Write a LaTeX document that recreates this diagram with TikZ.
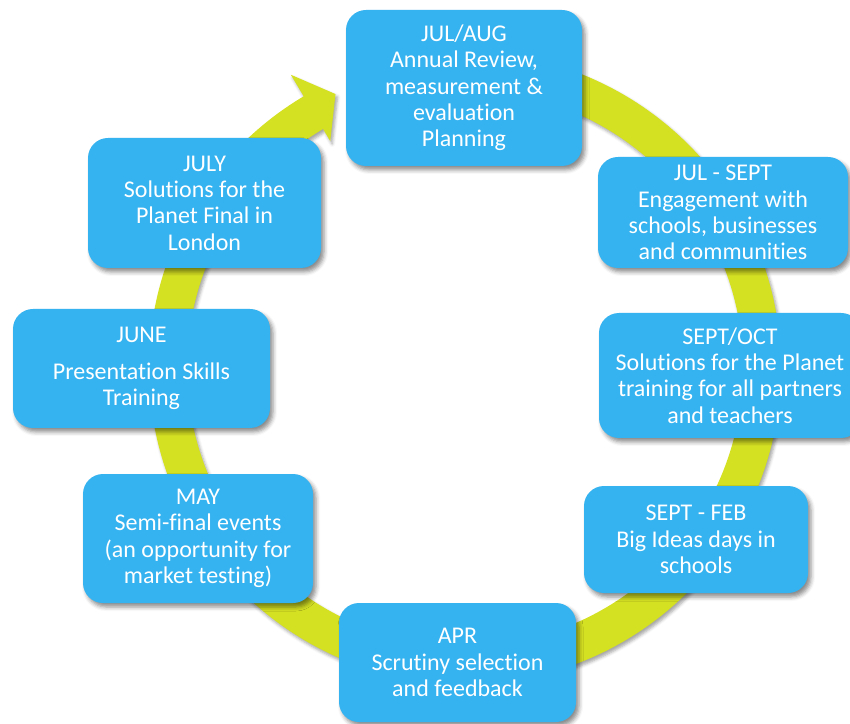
\documentclass[tikz,border=0pt]{standalone}
\usepackage{fontspec}
\setmainfont[Ligatures=NoCommon]{Carlito}
\usetikzlibrary{shadows.blur}
\definecolor{phaseblue}{RGB}{53,178,240}
\definecolor{cyclegreen}{RGB}{212,224,34}
\begin{document}
\begin{tikzpicture}[x=1pt,y=1pt,
  phasebox/.style={fill=phaseblue, rounded corners=20pt, text=white,
    align=center, inner sep=0pt, font=\fontsize{24}{26.3}\selectfont,
    blur shadow={shadow xshift=3pt, shadow yshift=-4pt,
      shadow blur radius=4pt, shadow opacity=45}},
  ringshadow/.style={blur shadow={shadow xshift=2pt, shadow yshift=-3pt,
      shadow blur radius=3pt, shadow opacity=35}}]
\useasboundingbox (0,0) rectangle (850,723);

% annual cycle: a thick circular band ending in an arrowhead
\coordinate (hub) at (465,355);
\begin{scope}[shift={(hub)}]
  \fill[cyclegreen, ringshadow]
    (95:316) arc[start angle=95, end angle=-239.3, radius=316]
    -- (120.7:341) -- (115.3:303) -- (120.7:264) -- (120.7:278)
    arc[start angle=-239.3, end angle=95, radius=278] -- cycle;
\end{scope}

% the phases of the year
\node[phasebox, minimum width=236pt, minimum height=156pt] (julaug) at (464,635)
  {JUL/AUG\\Annual Review,\\measurement \&\\evaluation\\Planning};
\node[phasebox, minimum width=250pt, minimum height=111pt] (julsept) at (723,510.5)
  {JUL - SEPT\\Engagement with\\schools, businesses\\and communities};
\node[phasebox, minimum width=262pt, minimum height=125pt] (septoct) at (730,347.5)
  {SEPT/OCT\\Solutions for the Planet\\training for all partners\\and teachers};
\node[phasebox, minimum width=224pt, minimum height=107pt] (septfeb) at (696,183.5)
  {SEPT - FEB\\Big Ideas days in\\schools};
\node[phasebox, minimum width=237pt, minimum height=119pt] (apr) at (457.5,60.5)
  {APR\\Scrutiny selection\\and feedback};
\node[phasebox, minimum width=230pt, minimum height=129pt] (may) at (198,184.5)
  {MAY\\Semi-final events\\(an opportunity for\\market testing)};
\node[phasebox, minimum width=257pt, minimum height=119pt] (june) at (141.5,354.5)
  {JUNE\\[10.7pt]Presentation Skills\\Training};
\node[phasebox, minimum width=233pt, minimum height=130pt] (july) at (204.5,520)
  {JULY\\Solutions for the\\Planet Final in\\London};
\end{tikzpicture}
\end{document}
